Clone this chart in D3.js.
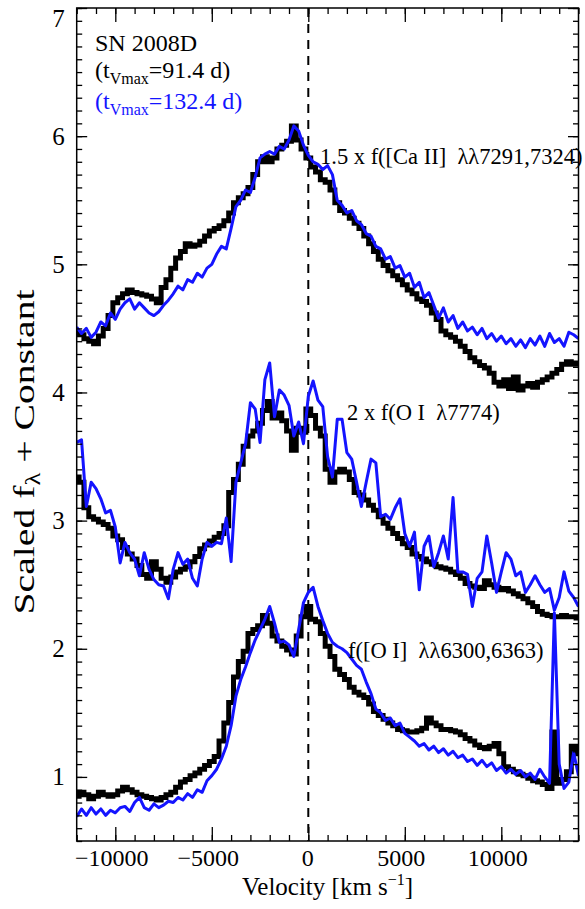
<!DOCTYPE html>
<html><head><meta charset="utf-8">
<script src="https://cdn.jsdelivr.net/npm/d3@7"></script>
<style>
body{margin:0;background:#fff}
svg{display:block}
text{font-family:"Liberation Serif","Times New Roman",serif;white-space:pre}
</style>
</head><body><svg id="c" width="585" height="909"></svg>
<script>
// ---------------- DATA ----------------
const velocity = [
-12000,-11750,-11500,-11250,-11000,-10750,-10500,-10250,-10000,-9750,
-9500,-9250,-9000,-8750,-8500,-8250,-8000,-7750,-7500,-7250,
-7000,-6750,-6500,-6250,-6000,-5750,-5500,-5250,-5000,-4750,
-4500,-4250,-4000,-3750,-3500,-3250,-3000,-2750,-2500,-2250,
-2000,-1750,-1500,-1250,-1000,-750,-500,-250,0,250,
500,750,1000,1250,1500,1750,2000,2250,2500,2750,
3000,3250,3500,3750,4000,4250,4500,4750,5000,5250,
5500,5750,6000,6250,6500,6750,7000,7250,7500,7750,
8000,8250,8500,8750,9000,9250,9500,9750,10000,10250,
10500,10750,11000,11250,11500,11750,12000,12250,12500,12750,
13000,13250,13500,13750,14000];

// [Ca II] 7291,7324 (x1.5, offset)
const caBlack = [
4.47,4.45,4.42,4.40,4.38,4.44,4.50,4.60,4.70,4.74,
4.77,4.80,4.78,4.77,4.76,4.75,4.73,4.70,4.82,4.88,
4.97,5.05,5.10,5.16,5.14,5.15,5.18,5.22,5.26,5.28,
5.30,5.34,5.40,5.48,5.52,5.55,5.60,5.70,5.80,5.84,
5.80,5.83,5.90,5.93,5.96,6.08,5.97,5.90,5.83,5.76,
5.72,5.66,5.64,5.58,5.48,5.42,5.40,5.36,5.32,5.28,
5.22,5.16,5.10,5.04,4.99,4.95,4.91,4.88,4.84,4.80,
4.77,4.73,4.71,4.68,4.62,4.57,4.48,4.45,4.43,4.40,
4.36,4.32,4.27,4.24,4.21,4.19,4.15,4.08,4.05,4.10,
4.03,4.12,4.02,4.05,4.07,4.04,4.08,4.10,4.12,4.15,
4.18,4.22,4.24,4.22,4.23];
const caBlue = [
4.51,4.46,4.50,4.43,4.47,4.55,4.52,4.62,4.57,4.65,
4.70,4.73,4.65,4.70,4.66,4.62,4.60,4.63,4.68,4.72,
4.77,4.83,4.80,4.88,4.86,4.93,4.90,4.97,5.00,5.08,
5.14,5.12,5.28,5.45,5.50,5.58,5.56,5.68,5.83,5.86,
5.88,5.86,5.92,5.90,5.97,6.08,6.04,5.93,5.85,5.80,
5.78,5.74,5.77,5.70,5.50,5.46,5.40,5.42,5.34,5.31,
5.24,5.22,5.14,5.12,5.04,5.06,4.97,4.99,4.90,4.93,
4.82,4.86,4.74,4.78,4.68,4.58,4.66,4.55,4.60,4.50,
4.55,4.48,4.51,4.45,4.50,4.42,4.46,4.40,4.44,4.38,
4.42,4.36,4.41,4.35,4.42,4.37,4.44,4.36,4.46,4.39,
4.42,4.36,4.47,4.45,4.42];

// O I 7774 (x2, offset)
const o7774Black = [
3.34,3.30,3.10,3.03,3.01,2.99,2.97,2.94,2.88,2.85,
2.79,2.74,2.70,2.65,2.58,2.55,2.68,2.62,2.55,2.52,
2.56,2.60,2.62,2.64,2.68,2.72,2.78,2.81,2.84,2.87,
2.90,2.96,3.22,3.32,3.44,3.58,3.66,3.70,3.76,3.86,
3.93,3.80,3.84,3.78,3.70,3.55,3.72,3.69,3.87,3.82,
3.72,3.66,3.40,3.30,3.38,3.40,3.38,3.32,3.22,3.20,
3.16,3.12,3.08,3.03,2.98,2.94,2.90,2.86,2.82,2.79,
2.74,2.72,2.70,2.68,2.66,2.64,2.63,2.62,2.60,2.58,
2.55,2.51,2.49,2.48,2.47,2.53,2.50,2.48,2.46,2.47,
2.45,2.43,2.41,2.39,2.36,2.33,2.29,2.27,2.26,2.25,
2.25,2.26,2.25,2.25,2.24];
const o7774Blue = [
3.61,3.63,3.11,3.30,3.25,3.17,3.06,3.08,2.95,2.67,
2.83,2.75,2.70,2.57,2.75,2.62,2.54,2.50,2.49,2.39,
2.62,2.75,2.66,2.70,2.55,2.49,2.70,2.83,2.80,2.83,
2.82,3.02,2.68,3.30,3.45,3.60,3.92,3.87,3.61,4.10,
4.23,3.81,4.02,3.98,3.90,3.66,3.77,3.60,3.97,4.09,
3.94,3.89,3.50,3.34,3.79,3.79,3.53,3.48,3.30,3.11,
3.30,3.48,3.45,3.03,3.05,3.01,3.10,3.17,2.90,2.80,
2.91,2.46,2.80,2.88,2.64,2.75,2.88,2.70,3.18,2.60,
2.60,2.58,2.33,2.55,2.60,2.88,2.67,2.44,2.60,2.75,
2.70,2.57,2.60,2.44,2.50,2.57,2.50,2.44,2.47,2.30,
2.40,2.60,2.45,2.40,2.33];

// [O I] 6300,6363
const o6300Black = [
0.85,0.88,0.86,0.83,0.85,0.88,0.86,0.85,0.86,0.89,
0.92,0.90,0.88,0.86,0.85,0.84,0.83,0.82,0.84,0.86,
0.88,0.92,0.96,0.98,1.01,1.03,1.06,1.09,1.12,1.16,
1.28,1.42,1.58,1.78,1.90,1.98,2.12,2.15,2.18,2.26,
2.20,2.10,2.06,2.02,1.99,1.96,2.10,2.25,2.33,2.23,
2.21,2.12,2.02,1.94,1.84,1.80,1.76,1.70,1.66,1.64,
1.62,1.57,1.51,1.48,1.45,1.42,1.40,1.37,1.36,1.35,
1.35,1.36,1.38,1.46,1.42,1.40,1.37,1.37,1.36,1.35,
1.33,1.30,1.28,1.25,1.23,1.22,1.24,1.26,1.18,1.08,
1.06,1.04,1.02,1.01,0.99,0.97,0.96,0.94,0.91,1.35,
0.95,0.98,1.04,1.24,1.18];
const o6300Blue = [
0.69,0.75,0.70,0.76,0.71,0.75,0.70,0.74,0.72,0.76,
0.77,0.73,0.80,0.84,0.76,0.74,0.79,0.76,0.78,0.81,
0.80,0.84,0.82,0.87,0.84,0.90,0.88,0.97,1.01,1.06,
1.14,1.24,1.40,1.63,1.76,1.86,1.97,2.07,2.15,2.23,
2.33,2.20,2.05,2.06,2.03,1.94,2.15,2.36,2.44,2.48,
2.33,2.22,2.12,2.05,2.02,2.00,1.97,1.92,1.87,1.84,
1.74,1.65,1.53,1.50,1.44,1.46,1.40,1.42,1.34,1.31,
1.28,1.24,1.26,1.21,1.24,1.19,1.22,1.17,1.20,1.15,
1.17,1.12,1.14,1.09,1.13,1.08,1.11,1.05,1.08,1.03,
1.06,1.02,1.05,1.00,1.03,0.98,1.06,1.00,0.95,2.28,
1.10,0.91,0.96,1.19,1.01];

const xTickValues = [-10000,-5000,0,5000,10000];
const yTickValues = [1,2,3,4,5,6,7];
const lineLabels = ["1.5 x f([Ca II]  λλ7291,7324)", "2 x f(O I  λ7774)", "f([O I]  λλ6300,6363)"];
const objectName = "SN 2008D";
const epochs = ["=91.4 d)", "=132.4 d)"];

// ---------------- LAYOUT ----------------
const X0 = 76.7, X1 = 578.5, Y0 = 8, Y1 = 841;
const BLUE = "#1414ff";
const svg = d3.select("#c");
const x = d3.scaleLinear().domain([-12000, 14000]).range([X0, X1]);
const y = d3.scaleLinear().domain([0.5, 7]).range([Y1, Y0]);

svg.append("defs").append("clipPath").attr("id","clip")
  .append("rect").attr("x",X0).attr("y",Y0).attr("width",X1-X0).attr("height",Y1-Y0);

// vertical dashed zero line
svg.append("line").attr("x1",x(0)).attr("x2",x(0)).attr("y1",Y0).attr("y2",Y1)
  .attr("stroke","#000").attr("stroke-width",2).attr("stroke-dasharray","9,7");

const plot = svg.append("g").attr("clip-path","url(#clip)");
const lineStep = d3.line().x((d,i)=>x(velocity[i])).y(d=>y(d)).curve(d3.curveStep);
const lineLin = d3.line().x((d,i)=>x(velocity[i])).y(d=>y(d));

[caBlack, o7774Black, o6300Black].forEach(s=>{
  plot.append("path").datum(s).attr("d",lineStep).attr("fill","none")
    .attr("stroke","#000").attr("stroke-width",5).attr("stroke-linejoin","miter");
});
[caBlue, o7774Blue, o6300Blue].forEach(s=>{
  plot.append("path").datum(s).attr("d",lineLin).attr("fill","none")
    .attr("stroke",BLUE).attr("stroke-width",3).attr("stroke-linejoin","round");
});

// ---------------- AXES ----------------
const xMinor = d3.range(-12, 15).map(k=>k*1000);
const yMinor = d3.range(5, 71).map(k=>k/10);
function styleAxis(g){
  g.select(".domain").remove();
  g.selectAll(".tick line").attr("stroke","#000").attr("stroke-width",1.3);
  g.selectAll(".tick text").attr("fill","#000").attr("font-size",24)
    .attr("font-family","Liberation Serif, Times New Roman, serif");
}
// bottom
svg.append("g").attr("transform",`translate(0,${Y1})`)
  .call(d3.axisBottom(x).tickValues(xMinor).tickSize(-6).tickFormat("")).call(styleAxis);
const xb = svg.append("g").attr("transform",`translate(0,${Y1})`)
  .call(d3.axisBottom(x).tickValues(xTickValues).tickSize(-14).tickPadding(8).tickFormat(d3.format("d"))).call(styleAxis);
xb.selectAll(".tick text").attr("dx", d=> d===0 ? -1 : -4);
// top
svg.append("g").attr("transform",`translate(0,${Y0})`)
  .call(d3.axisTop(x).tickValues(xMinor).tickSize(-6).tickFormat("")).call(styleAxis);
svg.append("g").attr("transform",`translate(0,${Y0})`)
  .call(d3.axisTop(x).tickValues(xTickValues).tickSize(-14).tickFormat("")).call(styleAxis);
// left
svg.append("g").attr("transform",`translate(${X0},0)`)
  .call(d3.axisLeft(y).tickValues(yMinor).tickSize(-5.5).tickFormat("")).call(styleAxis);
const yl = svg.append("g").attr("transform",`translate(${X0},0)`)
  .call(d3.axisLeft(y).tickValues(yTickValues).tickSize(-10.5).tickPadding(12).tickFormat(d3.format("d"))).call(styleAxis);
yl.selectAll(".tick text").attr("font-size",25).filter(d=>d===7).attr("y",10);
// right
svg.append("g").attr("transform",`translate(${X1},0)`)
  .call(d3.axisRight(y).tickValues(yMinor).tickSize(-5.5).tickFormat("")).call(styleAxis);
svg.append("g").attr("transform",`translate(${X1},0)`)
  .call(d3.axisRight(y).tickValues(yTickValues).tickSize(-10.5).tickFormat("")).call(styleAxis);
// frame
svg.append("rect").attr("x",X0).attr("y",Y0).attr("width",X1-X0).attr("height",Y1-Y0)
  .attr("fill","none").attr("stroke","#000").attr("stroke-width",1.5);

// axis titles
const xt = svg.append("text").attr("x",(X0+X1)/2).attr("y",895).attr("text-anchor","middle")
  .attr("font-size",25).attr("fill","#000");
xt.append("tspan").text("Velocity [km s");
xt.append("tspan").attr("font-size",16).attr("dy",-10).text("−1");
xt.append("tspan").attr("dy",10).text("]");

const yt = svg.append("text").attr("transform",`translate(34,452) rotate(-90)`)
  .attr("text-anchor","middle").attr("font-size",30).attr("fill","#000")
  .attr("textLength",325).attr("lengthAdjust","spacingAndGlyphs");
yt.append("tspan").text("Scaled f");
yt.append("tspan").attr("font-size",20).attr("dy",6).text("λ");
yt.append("tspan").attr("dy",-6).text(" + Constant");

// legend
svg.append("text").attr("x",95).attr("y",51).attr("font-size",24).attr("fill","#000").text(objectName);
[[78,"#000"],[109,BLUE]].forEach(([yy,col],i)=>{
  const t = svg.append("text").attr("x",95).attr("y",yy).attr("font-size",24).attr("fill",col);
  t.append("tspan").text("(t");
  t.append("tspan").attr("font-size",16).attr("dy",6).text("Vmax");
  t.append("tspan").attr("dy",-6).text(epochs[i]);
});

// line labels
[[320,164],[347,420],[348,658]].forEach(([xx,yy],i)=>{
  svg.append("text").attr("x",xx).attr("y",yy).attr("font-size",22.5).attr("fill","#000").text(lineLabels[i]);
});
</script>
</body></html>
